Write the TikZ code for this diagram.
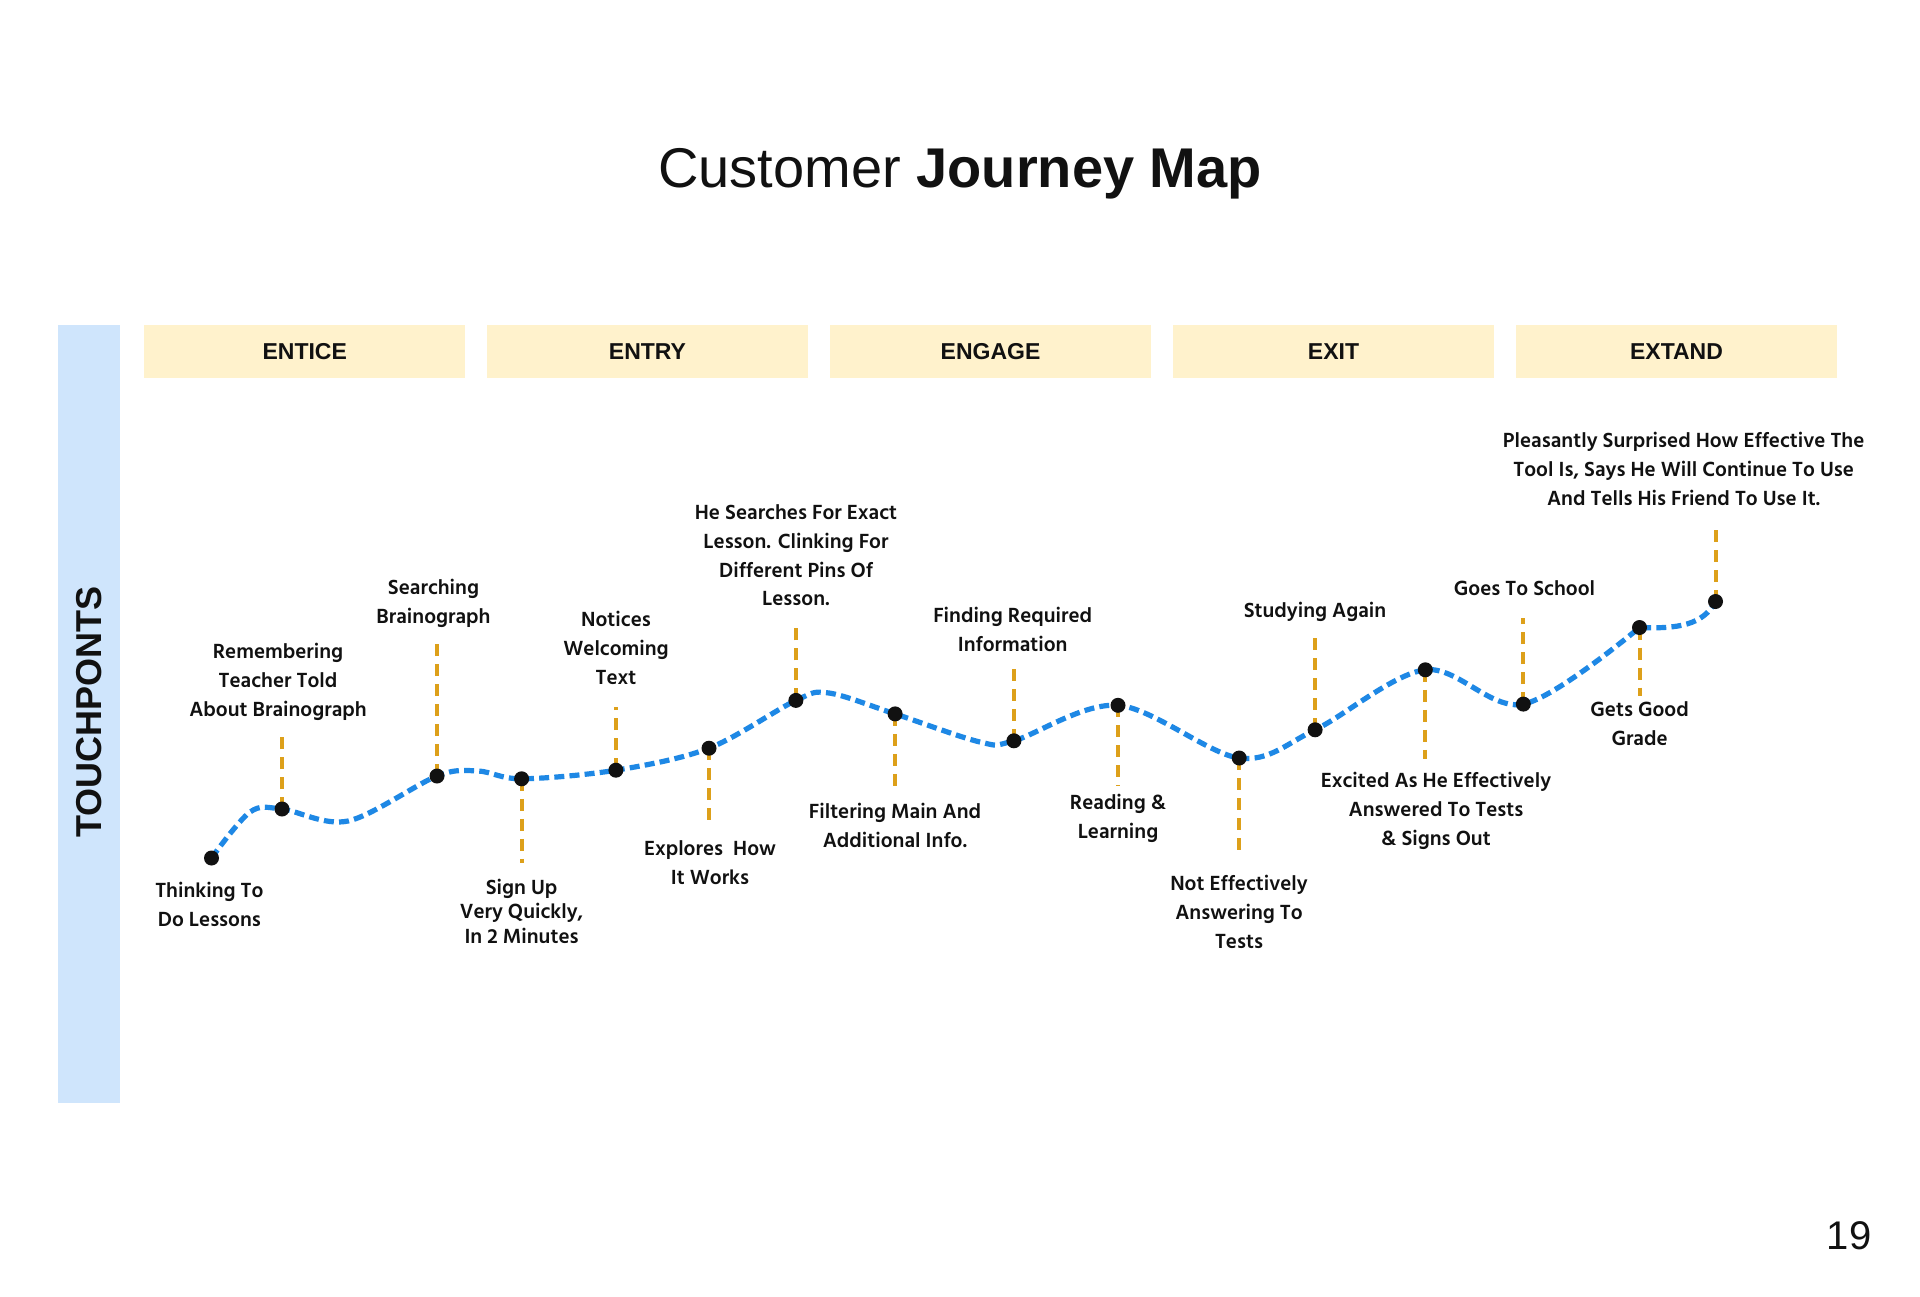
\documentclass[tikz,border=0pt]{standalone}
\usepackage{fontspec}
\setmainfont{Liberation Sans}
\newfontfamily\labfont{Hind Siliguri}
\definecolor{ink}{HTML}{111111}
\definecolor{barcol}{HTML}{CFE5FC}
\definecolor{phasefill}{HTML}{FFF2CC}
\definecolor{curvecol}{HTML}{1E88E5}
\definecolor{stemcol}{HTML}{DDA01A}
\begin{document}
\begin{tikzpicture}[x=0.5pt,y=-0.5pt,
  phase/.style={fill=phasefill, minimum width=160.5pt, minimum height=26.75pt, inner sep=0pt, font=\bfseries\fontsize{11.5}{14}\selectfont, text=ink},
  lab/.style={font=\labfont\bfseries\fontsize{10.5}{14.4}\selectfont, align=center, text=ink, inner sep=0pt},
  dot/.style={circle, fill=ink, minimum size=7.5pt, inner sep=0pt},
  stem/.style={draw=stemcol, line width=2pt, dash pattern=on 6pt off 4pt},
  journey/.style={draw=curvecol, line width=2.6pt, dash pattern=on 5pt off 2.6pt}
]
\useasboundingbox[fill=white] (0,0) rectangle (1920,1296);

% title
\node[anchor=base, font=\fontsize{28}{32}\selectfont, text=ink] (title) at (960,187) {Customer \textbf{Journey Map}};
\node[anchor=base, font=\fontsize{20}{24}\selectfont, text=ink] (pagenum) at (1849,1249) {19};

% side bar
\node[fill=barcol, minimum width=31.25pt, minimum height=389.25pt, inner sep=0pt] (bar) at (88.75,713.75) {};
\node[rotate=90, font=\bfseries\fontsize{18}{20}\selectfont, text=ink] (tp) at (89,712) {TOUCHPONTS};

% phases
\node[phase] (ph1) at (304.75,351.25) {ENTICE};
\node[phase] (ph2) at (647.5,351.25) {ENTRY};
\node[phase] (ph3) at (990.5,351.25) {ENGAGE};
\node[phase] (ph4) at (1333.5,351.25) {EXIT};
\node[phase] (ph5) at (1676.5,351.25) {EXTAND};

% journey points
\coordinate (p1) at (211.5,858);
\coordinate (q1) at (250,812);
\coordinate (p2) at (282,809);
\coordinate (q2) at (348,821);
\coordinate (p3) at (437,776);
\coordinate (q3) at (478,771);
\coordinate (p4) at (521.6,778.8);
\coordinate (p5) at (615.9,770.2);
\coordinate (p6) at (709,748.2);
\coordinate (p7) at (795.9,700.4);
\coordinate (q7) at (829,693);
\coordinate (p8) at (895.1,713.9);
\coordinate (q8) at (980,742);
\coordinate (p9) at (1013.9,740.8);
\coordinate (p10) at (1118,705.3);
\coordinate (p11) at (1239.2,758);
\coordinate (p12) at (1315.1,729.8);
\coordinate (p13) at (1425.3,669.8);
\coordinate (p14) at (1523.3,704.1);
\coordinate (p15) at (1639.5,627.5);
\coordinate (p16) at (1715.5,601.5);

% stem ends
\coordinate (s2) at (282,734.7);
\coordinate (s3) at (437,636.7);
\coordinate (s4) at (521.6,863.3);
\coordinate (s5) at (615.9,706.5);
\coordinate (s6) at (709,826.5);
\coordinate (s7) at (795.9,628.2);
\coordinate (s8) at (895.1,786.1);
\coordinate (s9) at (1013.9,667.4);
\coordinate (s10) at (1118,786.1);
\coordinate (s11) at (1239.2,857.2);
\coordinate (s12) at (1315.1,634.3);
\coordinate (s13) at (1425.3,759.2);
\coordinate (s14) at (1523.3,618.4);
\coordinate (s15) at (1639.5,695.5);
\coordinate (s16) at (1715.5,529);

\draw[journey] plot[smooth, tension=0.55] coordinates {(p1) (q1) (p2) (q2) (p3) (q3) (p4) (p5) (p6) (p7) (q7) (p8) (q8) (p9) (p10) (p11) (p12) (p13) (p14) (p15)}
  .. controls (1678,629) and (1703,625) .. (p16);

\foreach \i in {2,...,16} {\draw[stem] (p\i) -- (s\i);}

\foreach \i in {1,...,16} {\node[dot] (d\i) at (p\i) {};}

% labels
\node[lab] (l1) at (209.4,904.3) {Thinking To\\Do Lessons};
\node[lab] (l2) at (278,682) {Remembering\\Teacher Told\\About Brainograph};
\node[lab] (l3) at (433.5,603.7) {Searching\\Brainograph};
\node[lab, font=\labfont\bfseries\fontsize{10.5}{12.2}\selectfont] (l4) at (521.6,911) {Sign Up\\Very Quickly,\\In 2 Minutes};
\node[lab] (l5) at (616,647.8) {Notices\\Welcoming\\Text};
\node[lab] (l6) at (710,863) {Explores~ How\\It Works};
\node[lab] (l7) at (796,555.3) {He Searches For Exact\\Lesson. Clinking For\\Different Pins Of\\Lesson.};
\node[lab] (l8) at (895,825.3) {Filtering Main And\\Additional Info.};
\node[lab] (l9) at (1012.7,629.4) {Finding Required\\Information};
\node[lab] (l10) at (1118,818) {Reading \&\\Learning};
\node[lab] (l11) at (1239,912) {Not Effectively\\Answering To\\Tests};
\node[lab] (l12) at (1315,612) {Studying Again};
\node[lab] (l13) at (1436,810.6) {Excited As He Effectively\\Answered To Tests\\\& Signs Out};
\node[lab] (l14) at (1524.5,587.8) {Goes To School};
\node[lab] (l15) at (1639.6,723.7) {Gets Good\\Grade};
\node[lab] (l16) at (1683.7,469) {Pleasantly Surprised How Effective The\\Tool Is, Says He Will Continue To Use\\And Tells His Friend To Use It.};
\end{tikzpicture}
\end{document}
